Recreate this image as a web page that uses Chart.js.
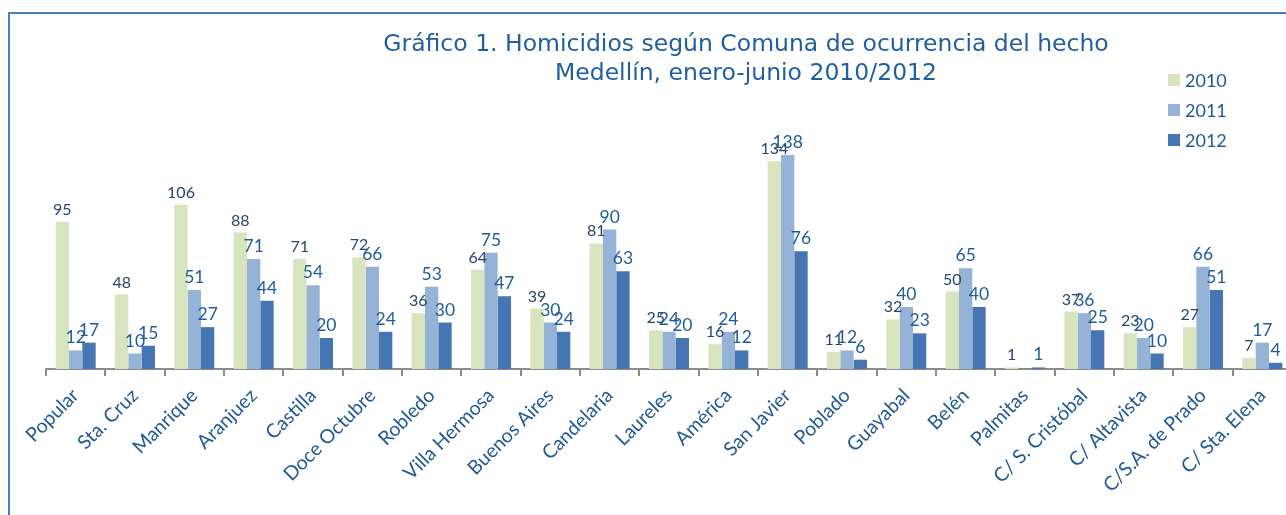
<!DOCTYPE html>
<html>
<head>
<meta charset="utf-8">
<script src="https://cdn.jsdelivr.net/npm/chart.js@4"></script>
<style>
  html, body { margin: 0; padding: 0; background: #fff; overflow: hidden; }
  #frame { position: absolute; left: 8px; top: 12px; width: 1400px; height: 600px; border-top: 2px solid #4a7ebb; border-left: 2px solid #4a7ebb; }
  #wrap { position: absolute; left: 0; top: 0; width: 1300px; height: 515px; }
</style>
</head>
<body>
<div id="frame"></div>
<div id="wrap"><canvas id="homicidios_graph"></canvas></div>
<script>
const comunas = ["Popular", "Sta. Cruz", "Manrique", "Aranjuez", "Castilla", "Doce Octubre", "Robledo",
  "Villa Hermosa", "Buenos Aires", "Candelaria", "Laureles", "América", "San Javier", "Poblado",
  "Guayabal", "Belén", "Palmitas", "C/ S. Cristóbal", "C/ Altavista", "C/S.A. de Prado", "C/ Sta. Elena"];
const years = ["2010", "2011", "2012"];
const values2010 = [95, 48, 106, 88, 71, 72, 36, 64, 39, 81, 25, 16, 134, 11, 32, 50, 1, 37, 23, 27, 7];
const values2011 = [12, 10, 51, 71, 54, 66, 53, 75, 30, 90, 24, 24, 138, 12, 40, 65, 0, 36, 20, 66, 17];
const values2012 = [17, 15, 27, 44, 20, 24, 30, 47, 24, 63, 20, 12, 76, 6, 23, 40, 1, 25, 10, 51, 4];
const titleLines = ["Gráfico 1. Homicidios según Comuna de ocurrencia del hecho", "Medellín, enero-junio 2010/2012"];

// bar colour, value label colour, value label size
const colourDictionary = {
  "2010": ["#d7e4bd", "#27466b", 16],
  "2011": ["#95b3d7", "#1f5c99", 17.5],
  "2012": ["#4675b3", "#1f5c99", 17.5]
};

const decorations = {
  id: 'decorations',
  afterDatasetsDraw(chart) {
    const ctx = chart.ctx;
    ctx.save();
    // value labels above every bar (zeros are left out)
    ctx.textAlign = 'center';
    ctx.textBaseline = 'alphabetic';
    chart.data.datasets.forEach((ds, i) => {
      ctx.fillStyle = colourDictionary[ds.label][1];
      ctx.font = colourDictionary[ds.label][2] + 'px Lato';
      chart.getDatasetMeta(i).data.forEach((bar, j) => {
        if (ds.data[j] === 0) return;
        ctx.fillText(ds.data[j], bar.x, bar.y - 7);
      });
    });
    // title
    ctx.fillStyle = '#1f5f9f';
    ctx.font = '23.5px "DejaVu Sans"';
    ctx.fillText(titleLines[0], 746, 51);
    ctx.fillText(titleLines[1], 746, 80);
    // legend
    ctx.textAlign = 'left';
    ctx.textBaseline = 'middle';
    ctx.font = '18px Lato';
    years.forEach((year, i) => {
      const y = 80 + i * 30;
      ctx.fillStyle = colourDictionary[year][0];
      ctx.fillRect(1168, y - 6, 12, 12);
      ctx.fillStyle = '#1f5a96';
      ctx.fillText(year, 1185, y + 1);
    });
    ctx.restore();
  }
};

function render_graph() {
  const graph = document.getElementById('homicidios_graph');
  const series = [values2010, values2011, values2012];
  return new Chart(graph, {
    type: 'bar',
    data: {
      labels: comunas,
      datasets: years.map((year, i) => ({
        label: year,
        data: series[i],
        backgroundColor: colourDictionary[year][0],
        borderWidth: 0,
        categoryPercentage: 0.674,
        barPercentage: 1.0
      }))
    },
    options: {
      responsive: true,
      maintainAspectRatio: false,
      animation: false,
      layout: { padding: { left: 46, right: 8, top: 121, bottom: 0 } },
      plugins: { legend: { display: false }, tooltip: { enabled: false } },
      scales: {
        x: {
          grid: { display: true, offset: true, drawOnChartArea: false, drawTicks: true, tickLength: 7, color: '#8c8c8c', lineWidth: 2 },
          border: { display: true, color: '#8c8c8c', width: 2 },
          ticks: { autoSkip: false, maxRotation: 45, minRotation: 45, color: '#1f5a96', font: { family: 'Lato', size: 19.5 }, padding: 8 },
          afterFit: scale => { scale.height = 146; }
        },
        y: { display: false, min: 0, max: 160 }
      }
    },
    plugins: [decorations]
  });
}

render_graph();
</script>
</body>
</html>
